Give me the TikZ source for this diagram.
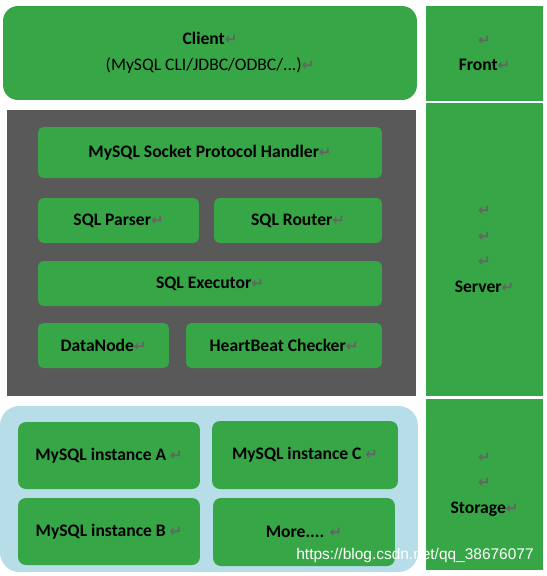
\documentclass[tikz,border=0pt]{standalone}
\usepackage{fontspec}
\setmainfont{Carlito}
\newfontfamily\arrowfont{DejaVu Sans}
\newfontfamily\wmfont{Liberation Sans}

\definecolor{mgreen}{RGB}{54,166,70}
\definecolor{mgray}{RGB}{89,89,89}
\definecolor{lblue}{RGB}{183,221,232}
\definecolor{pgray}{RGB}{100,100,100}

\newcommand{\retmark}{{\arrowfont\fontsize{8.5}{8}\selectfont\color{pgray}↵}}

\tikzset{
    blk/.style={fill=mgreen, rounded corners=3pt, inner sep=0pt, align=center,
        font=\fontsize{10}{14.6}\selectfont\bfseries},
    inst/.style={blk, rounded corners=4.5pt},
    layer/.style={fill=mgreen, inner sep=0pt, align=center, minimum width=2.34cm,
        font=\fontsize{10}{14.6}\selectfont\bfseries},
}

\begin{document}
\begin{tikzpicture}[x=0.02cm, y=-0.02cm]
    \useasboundingbox (0,0) rectangle (547,576);

    % front
    \node[blk, rounded corners=8.5pt, minimum width=8.28cm, minimum height=1.88cm] (client) at (210,53)
        {Client\retmark\\{\mdseries (MySQL CLI/JDBC/ODBC/...)}\retmark};

    % server
    \node[fill=mgray, inner sep=0pt, minimum width=8.18cm, minimum height=5.72cm] (server) at (211.5,253) {};
    \node[blk, minimum width=6.88cm, minimum height=1.02cm] (handler) at (210,152.5) {MySQL Socket Protocol Handler\retmark};
    \node[blk, minimum width=3.22cm, minimum height=0.9cm] (parser) at (118.5,220.5) {SQL Parser\retmark};
    \node[blk, minimum width=3.36cm, minimum height=0.9cm] (router) at (298,220.5) {SQL Router\retmark};
    \node[blk, minimum width=6.88cm, minimum height=0.9cm] (executor) at (210,283.5) {SQL Executor\retmark};
    \node[blk, minimum width=2.62cm, minimum height=0.9cm] (datanode) at (103.5,345.5) {DataNode\retmark};
    \node[blk, minimum width=3.92cm, minimum height=0.9cm] (heartbeat) at (284,345.5) {HeartBeat Checker\retmark};

    % storage
    \node[fill=lblue, rounded corners=11pt, inner sep=0pt, minimum width=8.36cm, minimum height=3.32cm] (storage) at (209,489) {};
    \node[inst, minimum width=3.64cm, minimum height=1.34cm] (instA) at (109,455.5) {MySQL instance A \retmark};
    \node[inst, minimum width=3.72cm, minimum height=1.36cm] (instC) at (305,455) {MySQL instance C \retmark};
    \node[inst, minimum width=3.64cm, minimum height=1.34cm] (instB) at (109,531.5) {MySQL instance B \retmark};
    \node[inst, minimum width=3.64cm, minimum height=1.36cm] (more) at (304,532) {More.... \retmark};

    % layer labels
    \node[layer, minimum height=1.9cm] (front) at (484.5,53.5) {\retmark\\Front\retmark};
    \node[layer, minimum height=5.86cm] (serverlayer) at (484.5,249.5)
        {\retmark\\\retmark\\\retmark\\Server\retmark};
    \node[layer, minimum height=3.42cm] (storagelayer) at (484.5,484.5)
        {\retmark\\\retmark\\Storage\retmark};

    \node[font=\wmfont\fontsize{8.8}{10}\selectfont, text=white] (mark) at (415,555)
        {https://blog.csdn.net/qq\_38676077};
\end{tikzpicture}
\end{document}
